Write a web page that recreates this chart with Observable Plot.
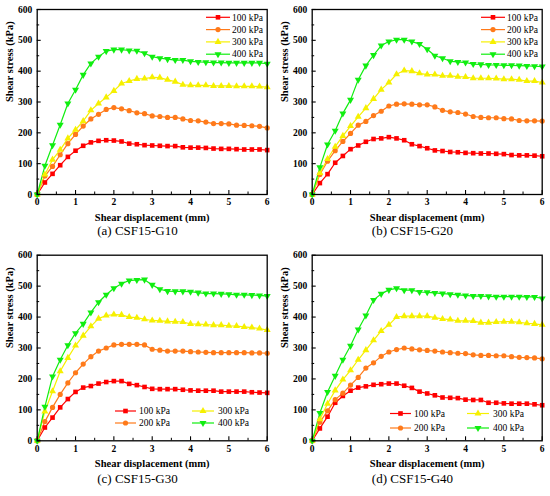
<!DOCTYPE html>
<html>
<head>
<meta charset="utf-8">
<script src="https://cdn.jsdelivr.net/npm/d3@7"></script>
<script src="https://cdn.jsdelivr.net/npm/@observablehq/plot@0.6"></script>
<style>
  html, body { margin: 0; padding: 0; background: #fff; }
  #root { position: relative; width: 550px; height: 496px; overflow: hidden; }
  .panel { position: absolute; width: 275px; height: 248px; }
  .caption { position: absolute; left: 0; width: 275px; top: 221px; height: 19px; line-height: 19px;
             text-align: center; font-family: "Liberation Serif", serif; font-size: 13px; color: #000; }
</style>
</head>
<body>
<div id="root"></div>
<script>
// ---------- data ----------
const disp = [0, 0.2, 0.4, 0.6, 0.8, 1.0, 1.2, 1.4, 1.6, 1.8, 2.0, 2.2, 2.4, 2.6, 2.8, 3.0,
              3.2, 3.4, 3.6, 3.8, 4.0, 4.2, 4.4, 4.6, 4.8, 5.0, 5.2, 5.4, 5.6, 5.8, 6.0];
const loads = ["100 kPa", "200 kPa", "300 kPa", "400 kPa"];
const xTicks = [0, 1, 2, 3, 4, 5, 6];
const xMinor = [0.5, 1.5, 2.5, 3.5, 4.5, 5.5];
const yTicks = [0, 100, 200, 300, 400, 500, 600];
const yMinor = [50, 150, 250, 350, 450, 550];
const captions = ["(a) CSF15-G10", "(b) CSF15-G20", "(c) CSF15-G30", "(d) CSF15-G40"];

// (a) CSF15-G10
const a100 = [0, 39, 67, 95, 122, 142, 158, 169, 174, 176, 175, 172, 165, 163, 160, 159, 158, 157, 157, 153, 152, 152, 151, 149, 148, 148, 147, 146, 146, 146, 144];
const a200 = [0, 60, 91, 129, 165, 195, 222, 245, 260, 276, 282, 278, 272, 265, 262, 255, 253, 250, 250, 245, 240, 239, 235, 230, 230, 229, 225, 224, 223, 221, 216];
const a300 = [0, 65, 113, 145, 182, 210, 238, 273, 295, 315, 336, 360, 368, 375, 376, 380, 379, 372, 366, 356, 354, 354, 354, 352, 352, 352, 351, 351, 351, 350, 348];
const a400 = [0, 93, 160, 226, 295, 340, 388, 425, 447, 465, 470, 470, 467, 466, 458, 447, 442, 439, 436, 436, 432, 430, 429, 428, 428, 427, 427, 427, 427, 427, 424];
// (b) CSF15-G20
const b100 = [0, 37, 66, 103, 125, 147, 159, 171, 180, 182, 186, 182, 176, 163, 157, 150, 143, 141, 138, 137, 135, 134, 133, 133, 132, 131, 128, 127, 127, 126, 124];
const b200 = [0, 65, 108, 142, 172, 198, 225, 237, 256, 270, 287, 293, 294, 293, 291, 291, 284, 273, 268, 266, 261, 253, 250, 249, 249, 246, 245, 240, 239, 239, 238];
const b300 = [0, 70, 115, 155, 190, 222, 252, 280, 310, 340, 363, 390, 402, 400, 393, 389, 389, 385, 385, 382, 381, 377, 377, 377, 376, 374, 374, 372, 368, 368, 363];
const b400 = [0, 88, 162, 207, 263, 307, 372, 418, 452, 483, 496, 502, 502, 496, 488, 471, 450, 442, 432, 430, 428, 423, 422, 420, 420, 419, 419, 418, 417, 416, 415];
// (c) CSF15-G30
const c100 = [0, 43, 75, 108, 135, 158, 172, 177, 185, 190, 193, 193, 184, 180, 174, 168, 167, 167, 167, 165, 163, 162, 162, 162, 159, 159, 159, 159, 157, 156, 155];
const c200 = [0, 62, 108, 150, 187, 220, 248, 272, 290, 300, 310, 312, 312, 312, 310, 296, 293, 290, 290, 290, 288, 287, 286, 285, 285, 285, 285, 285, 284, 284, 283];
const c300 = [0, 95, 160, 225, 268, 308, 340, 370, 395, 405, 408, 407, 400, 398, 393, 389, 388, 386, 385, 384, 378, 377, 376, 374, 374, 372, 371, 368, 366, 363, 358];
const c400 = [0, 110, 208, 262, 309, 348, 378, 415, 448, 472, 493, 508, 518, 520, 521, 504, 490, 484, 483, 483, 482, 479, 476, 476, 475, 474, 472, 472, 471, 470, 468];
// (d) CSF15-G40
const d100 = [0, 40, 78, 123, 145, 162, 172, 176, 181, 183, 185, 185, 178, 171, 159, 153, 147, 140, 139, 138, 133, 132, 132, 123, 123, 121, 120, 120, 120, 118, 115];
const d200 = [0, 60, 97, 133, 154, 180, 205, 235, 252, 273, 287, 295, 300, 297, 294, 292, 290, 287, 285, 283, 282, 278, 276, 276, 275, 275, 272, 270, 269, 268, 265];
const d300 = [0, 70, 120, 163, 198, 228, 262, 293, 325, 355, 375, 400, 403, 403, 403, 403, 398, 394, 392, 388, 388, 387, 382, 382, 384, 385, 385, 383, 380, 378, 375];
const d400 = [0, 90, 158, 210, 262, 307, 360, 405, 455, 475, 488, 493, 487, 487, 481, 480, 478, 476, 474, 472, 470, 468, 468, 467, 466, 466, 466, 466, 465, 465, 460];

const colors = ["#ff0000", "#ff7a1a", "#f6f000", "#10ee10"];
const symbols = ["square", "circle", "triangle", "triangle"];
const rotations = [0, 0, 0, 180];

// ---------- drawing ----------
const W = 275, H = 248;
const ML = 36.7, MR = 8.3;
const FONT = "'Liberation Serif', 'Times New Roman', serif";
const d3Symbols = { square: d3.symbolSquare, circle: d3.symbolCircle, triangle: d3.symbolTriangle };
const R = 2.6;

function legendMark(layout) {
  return () => {
    const g = d3.create("svg:g").attr("style", `font-family: ${FONT}; font-size: 9.5px; text-anchor: start;`);
    loads.forEach((name, i) => {
      const it = layout[i];
      g.append("line").attr("x1", it.x1).attr("x2", it.x2).attr("y1", it.y).attr("y2", it.y)
        .attr("stroke", colors[i]).attr("stroke-width", 1.2);
      g.append("path")
        .attr("d", d3.symbol(d3Symbols[symbols[i]], Math.PI * R * R)())
        .attr("transform", `translate(${(it.x1 + it.x2) / 2},${it.y}) rotate(${rotations[i]})`)
        .attr("fill", colors[i]);
      g.append("text").attr("x", it.tx).attr("y", it.y).attr("dy", "0.34em")
        .attr("style", `font-family: ${FONT}; font-size: 9.5px; text-anchor: start;`)
        .attr("fill", "black").text(name);
    });
    return g.node();
  };
}

const vertLegend = loads.map((_, i) => ({ x1: 206, x2: 230, y: 17.3 + i * 12.3, tx: 232 }));
const gridLegend = [
  { x1: 115, x2: 136, y: 163, tx: 139 },
  { x1: 115, x2: 136, y: 175, tx: 139 },
  { x1: 192, x2: 214, y: 163, tx: 218 },
  { x1: 192, x2: 214, y: 175, tx: 218 }
];

const panels = [
  { left: 0,   top: 0,   series: [a100, a200, a300, a400], mt: 9,   mb: H - 194,   legend: vertLegend },
  { left: 275, top: 0,   series: [b100, b200, b300, b400], mt: 9,   mb: H - 194,   legend: vertLegend },
  { left: 0,   top: 248, series: [c100, c200, c300, c400], mt: 6.7, mb: H - 192.3, legend: gridLegend },
  { left: 275, top: 248, series: [d100, d200, d300, d400], mt: 6.7, mb: H - 192.3, legend: gridLegend.map((d, i) => ({ ...d, y: d.y + (i % 2 === 0 ? 2.5 : 5) })) }
];

const root = document.getElementById("root");

panels.forEach((p, pi) => {
  const rows = [];
  p.series.forEach((vals, si) => vals.forEach((v, k) => rows.push({ x: disp[k], y: v, load: loads[si], rot: rotations[si] })));
  const innerW = W - ML - MR;
  const innerH = H - p.mt - p.mb;

  const chart = Plot.plot({
    width: W, height: H,
    marginLeft: ML, marginRight: MR, marginTop: p.mt, marginBottom: p.mb,
    style: { fontFamily: FONT, background: "transparent", overflow: "visible" },
    x: { domain: [0, 6] },
    y: { domain: [0, 600] },
    color: { domain: loads, range: colors },
    symbol: { domain: loads, range: symbols },
    marks: [
      Plot.line(rows, { x: "x", y: "y", z: "load", stroke: "load", strokeWidth: 1.2 }),
      Plot.dot(rows, { x: "x", y: "y", fill: "load", symbol: "load", r: R, rotate: "rot", stroke: "none" }),
      Plot.frame({ stroke: "black", strokeWidth: 1.3 }),
      Plot.tickX(xTicks, { x: d => d, insetTop: innerH - 4, stroke: "black", strokeWidth: 1.1 }),
      Plot.tickX(xMinor, { x: d => d, insetTop: innerH - 2.5, stroke: "black", strokeWidth: 1 }),
      Plot.tickY(yTicks, { y: d => d, insetRight: innerW - 4, stroke: "black", strokeWidth: 1.1 }),
      Plot.tickY(yMinor, { y: d => d, insetRight: innerW - 2.5, stroke: "black", strokeWidth: 1 }),
      Plot.axisX({ ticks: xTicks, tickFormat: d3.format("d"), tickSize: 0, tickPadding: 4, label: null, fontSize: 9.5, fontWeight: "bold" }),
      Plot.axisY({ ticks: yTicks, tickFormat: d3.format("d"), tickSize: 0, tickPadding: 5, label: null, fontSize: 9.5, fontWeight: "bold" }),
      Plot.text(["Shear displacement (mm)"], { text: d => d, frameAnchor: "bottom", dy: 26, fontSize: 10.5, fontWeight: "bold" }),
      Plot.text(["Shear stress (kPa)"], { text: d => d, frameAnchor: "left", dx: -27.5, rotate: -90, fontSize: 10.5, fontWeight: "bold" }),
      legendMark(p.legend)
    ]
  });

  const div = document.createElement("div");
  div.className = "panel";
  div.style.left = p.left + "px";
  div.style.top = p.top + "px";
  div.appendChild(chart);
  const cap = document.createElement("div");
  cap.className = "caption";
  cap.textContent = captions[pi];
  div.appendChild(cap);
  root.appendChild(div);
});
</script>
</body>
</html>
